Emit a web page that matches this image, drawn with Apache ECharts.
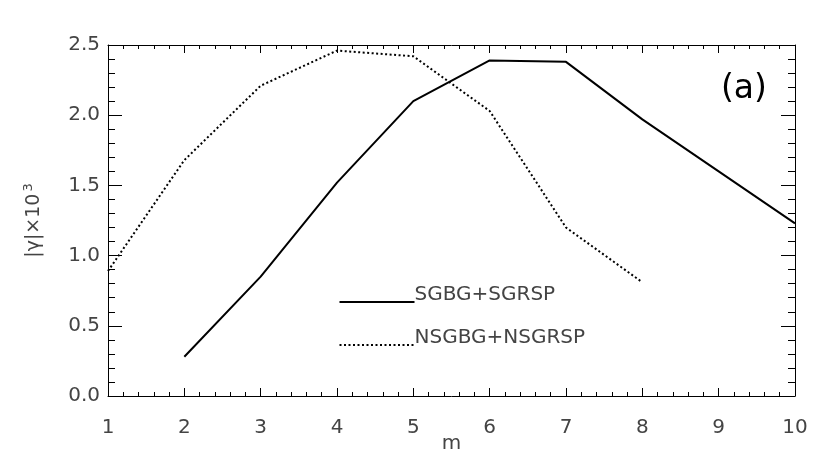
<!DOCTYPE html>
<html>
<head>
<meta charset="utf-8">
<script src="https://cdn.jsdelivr.net/npm/echarts@6/dist/echarts.min.js"></script>
<style>html,body{margin:0;padding:0;background:#fff;}#chart{width:822px;height:463px;}</style>
</head>
<body>
<div id="chart"></div>
<script>
// Data
var mSolid = [2, 3, 4, 5, 6, 7, 8, 9, 10];
var solidValues = [0.28, 0.85, 1.52, 2.10, 2.39, 2.38, 1.97, 1.60, 1.23];
var mDotted = [1, 2, 3, 4, 5, 6, 7, 8];
var dottedValues = [0.89, 1.68, 2.21, 2.46, 2.42, 2.03, 1.20, 0.81];
var seriesNames = ['SGBG+SGRSP', 'NSGBG+NSGRSP'];
var xRange = [1, 10];
var yRange = [0, 2.5];
var panelLabel = '(a)';

function pairs(xs, ys) { return xs.map(function (x, i) { return [x, ys[i]]; }); }

var FONT = 'DejaVu Sans';
var TEXT = '#444';
var labelStyle = { fontFamily: FONT, fontSize: 20, color: TEXT };
var DOT = [2, 2.5];

function xAx(pos, showLabel) {
  return {
    type: 'value', position: pos, min: xRange[0], max: xRange[1], interval: 1,
    axisLine: { show: true, onZero: false, lineStyle: { color: '#000', width: 1 } },
    axisTick: { show: true, inside: true, length: 8, lineStyle: { color: '#000' } },
    minorTick: { show: true, splitNumber: 5, length: 4, lineStyle: { color: '#000' } },
    splitLine: { show: false },
    axisLabel: Object.assign({ show: showLabel, margin: 22 }, labelStyle),
    name: showLabel ? 'm' : '', nameLocation: 'middle', nameGap: 38, nameMoveOverlap: false,
    nameTextStyle: { fontFamily: FONT, fontSize: 20, color: TEXT }
  };
}
function yAx(pos, showLabel) {
  return {
    type: 'value', position: pos, min: yRange[0], max: yRange[1], interval: 0.5,
    axisLine: { show: true, onZero: false, lineStyle: { color: '#000', width: 1 } },
    axisTick: { show: true, inside: true, length: 14, lineStyle: { color: '#000' } },
    minorTick: { show: true, splitNumber: 5, length: 7, lineStyle: { color: '#000' } },
    splitLine: { show: false },
    axisLabel: Object.assign({ show: showLabel, margin: 8, formatter: function (v) { return v.toFixed(1); } }, labelStyle),
    name: showLabel ? '{a||γ|×10}{s|3}' : '', nameLocation: 'middle', nameGap: 62, nameRotate: 90, nameMoveOverlap: false,
    nameTextStyle: {
      fontFamily: FONT, color: TEXT,
      rich: {
        a: { fontFamily: FONT, fontSize: 19, color: TEXT, lineHeight: 24 },
        s: { fontFamily: FONT, fontSize: 13, color: TEXT, lineHeight: 24, verticalAlign: 'top', padding: [0, 0, 12, 2] }
      }
    }
  };
}

// legend drawn as a key: sample line followed by label, text baseline on the line
function legendItem(i, y, dash) {
  return {
    type: 'group', left: 337, top: y - 14,
    children: [
      { type: 'line', shape: { x1: 0, y1: 14, x2: 75, y2: 14 },
        style: { stroke: '#000', lineWidth: 2, lineDash: dash } },
      { type: 'text', x: 75, y: 7,
        style: { text: seriesNames[i], fontFamily: FONT, fontSize: 20, fill: TEXT, verticalAlign: 'middle', align: 'left' } }
    ]
  };
}

var chart = echarts.init(document.getElementById('chart'), null, { renderer: 'canvas' });
chart.setOption({
  animation: false,
  backgroundColor: '#fff',
  grid: { left: 108, right: 27, top: 45, bottom: 67, containLabel: false, outerBoundsMode: 'none' },
  xAxis: [xAx('bottom', true), xAx('top', false)],
  yAxis: [yAx('left', true), yAx('right', false)],
  graphic: [
    { type: 'text', left: 721, top: 73,
      style: { text: panelLabel, fontFamily: FONT, fontSize: 33, fill: '#000' } },
    legendItem(0, 299, null),
    legendItem(1, 342, DOT)
  ],
  series: [{
    name: seriesNames[0], type: 'line', data: pairs(mSolid, solidValues),
    showSymbol: false, symbol: 'none', color: '#000',
    lineStyle: { color: '#000', width: 2, type: 'solid' }
  }, {
    name: seriesNames[1], type: 'line', data: pairs(mDotted, dottedValues),
    showSymbol: false, symbol: 'none', color: '#000',
    lineStyle: { color: '#000', width: 2, type: DOT }
  }]
});
</script>
</body>
</html>
